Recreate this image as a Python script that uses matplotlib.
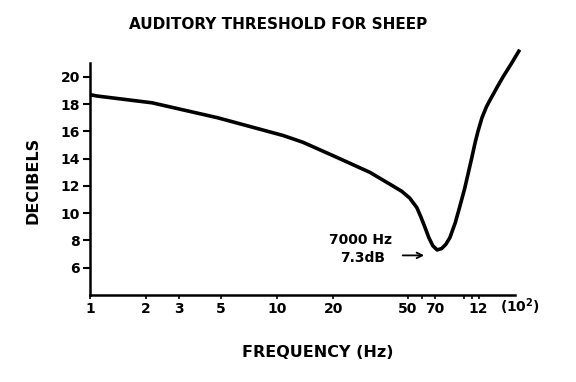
import matplotlib
matplotlib.use('Agg')
import matplotlib.pyplot as plt

# frequency in units of 100 Hz, threshold in dB
freq = [1.0, 1.09, 2.15, 4.83, 10.8, 13.8, 20.9, 31.4, 41.7, 46.6, 51.4, 56.1,
        59.0, 61.8, 65.0, 68.3, 72.0, 76.0, 80.0, 84.2, 90.0, 95.2, 101.0,
        105.0, 110.0, 115.0, 119.0, 125.0, 132.0, 138.0, 150.0, 162.0, 180.0, 199.0]
db = [18.7, 18.6, 18.1, 17.0, 15.7, 15.2, 14.1, 13.0, 12.0, 11.6, 11.1, 10.4,
      9.7, 9.0, 8.2, 7.6, 7.3, 7.4, 7.7, 8.2, 9.3, 10.5, 11.8,
      12.8, 14.0, 15.2, 16.0, 17.0, 17.8, 18.3, 19.2, 20.0, 21.0, 22.0]

xticks = [1, 2, 3, 5, 10, 20, 50, 60, 70, 100, 110, 120]
xlabels = ['1', '2', '3', '5', '10', '20', '50', '', '70', '', '', '12']
yticks = [6, 8, 10, 12, 14, 16, 18, 20]

plt.rcParams['font.family'] = ['DejaVu Sans']
plt.rcParams['font.weight'] = 'bold'

fig = plt.figure(figsize=(5.76, 3.82), dpi=100)
ax = fig.add_axes([0.156, 0.228, 0.747, 0.642])

ax.plot(freq, db, color='black', lw=2.6, solid_capstyle='butt', clip_on=False)

ax.set_xscale('log')
ax.set_xlim(1, 200)
ax.set_ylim(4, 22)
ax.set_xticks(xticks)
ax.set_xticklabels(xlabels)
ax.minorticks_off()
ax.set_yticks(yticks)
ax.tick_params(axis='y', direction='out', length=5, width=1.5, labelsize=10, pad=2)
ax.tick_params(axis='x', direction='out', length=3, width=1.2, labelsize=10, pad=2)
for lab in ax.get_xticklabels() + ax.get_yticklabels():
    lab.set_fontweight('bold')

for s in ['top', 'right']:
    ax.spines[s].set_visible(False)
ax.spines['left'].set_linewidth(1.8)
ax.spines['bottom'].set_linewidth(1.8)
ax.spines['left'].set_bounds(4, 21)
ax.spines['bottom'].set_bounds(1, 188)

ax.text(1.0, -0.048, '(10$^\\mathbf{2}$)', transform=ax.transAxes, fontsize=10,
        fontweight='bold', ha='center', va='center')

# minimum annotation
ax.text(41.5, 8.0, '7000 Hz', ha='right', va='center', fontsize=10, fontweight='bold')
ax.text(38.0, 6.7, '7.3dB', ha='right', va='center', fontsize=10, fontweight='bold')
ax.annotate('', xy=(63.5, 6.9), xytext=(45.5, 6.9),
            arrowprops=dict(arrowstyle='->', color='black', lw=1.3))

fig.text(0.482, 0.935, 'AUDITORY THRESHOLD FOR SHEEP', ha='center', va='center',
         fontsize=11, fontweight='bold')
fig.text(0.551, 0.076, 'FREQUENCY (Hz)', ha='center', va='center',
         fontsize=11.5, fontweight='bold')
fig.text(0.058, 0.528, 'DECIBELS', ha='center', va='center', rotation=90,
         fontsize=11.5, fontweight='bold')

fig.savefig('out.png', dpi=100)
